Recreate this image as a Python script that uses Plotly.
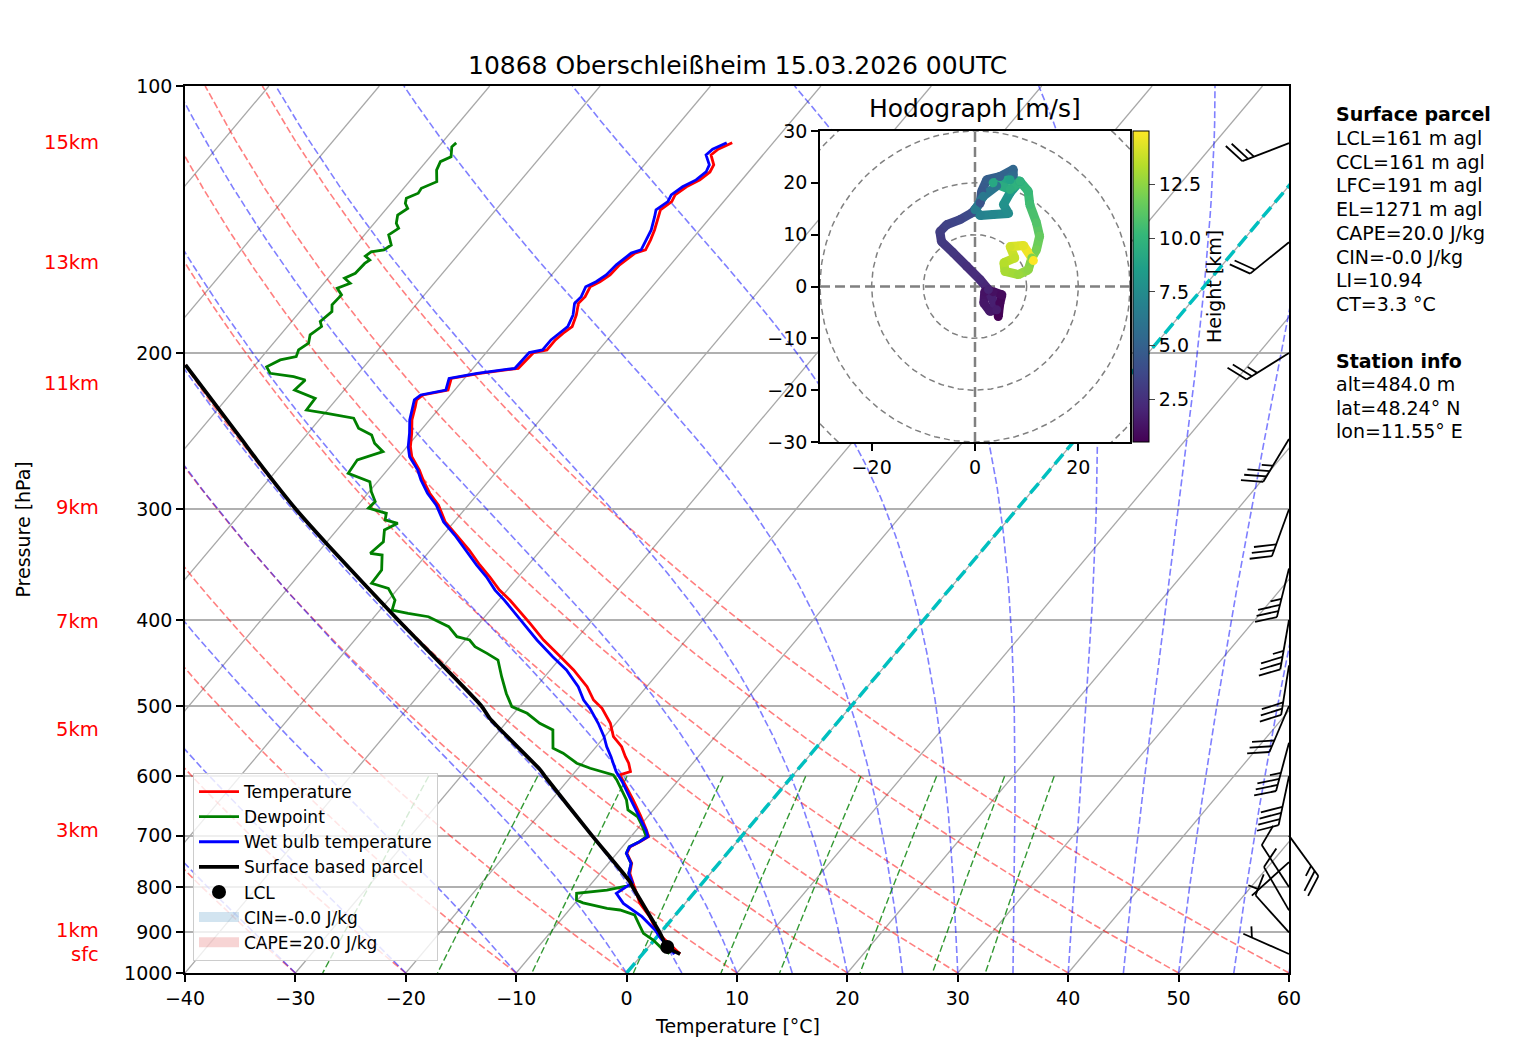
import numpy as np
import plotly.graph_objects as go
from plotly.colors import sample_colorscale

# sounding values (pressure in hPa, temperatures in degC)
temp_p = [952, 934.0, 914.0, 894.4, 864.0, 834.7, 813.2, 791.2, 772.0, 752.2, 732.8, 720.4, 711.1, 702.0,
          689.9, 663.6, 638.1, 608.3, 598.0, 592.8, 580.1, 570.3, 555.7, 541.5, 523.0, 503.0, 492.3, 475.6,
          455.3, 439.9, 421.3, 403.4, 379.8, 370.1, 357.5, 346.7, 333.5, 320.8, 310.1, 296.8, 287.8, 278.1,
          271.0, 261.8, 255.0, 246.3, 237.9, 229.9, 225.9, 223.0, 220.2, 213.6, 210.8, 208.1, 203.6, 199.8,
          198.4, 193.3, 190.0, 186.7, 181.2, 175.8, 172.8, 168.4, 166.2, 163.3, 159.1, 156.4, 154.3, 153.0,
          149.1, 145.3, 140.4, 137.9, 135.0, 132.7, 129.9, 127.6, 125.0, 122.7, 119.6, 117.8, 115.9]
temp_t = [3.4, 2.1, 0.7, -0.6, -2.2, -4.1, -5.2, -6.3, -7.3, -7.9, -9.1, -9.3, -8.8, -8.4,
          -9.1, -10.8, -12.6, -14.9, -15.7, -15.0, -15.8, -16.6, -17.7, -19.2, -20.5, -22.4, -23.8, -25.4,
          -27.9, -30.1, -32.9, -35.4, -39.0, -40.7, -42.6, -44.4, -46.5, -48.8, -50.8, -52.7, -54.4, -56.0,
          -57.1, -58.8, -59.7, -60.6, -61.6, -62.3, -62.7, -62.5, -60.6, -61.2, -59.0, -55.9, -55.8, -55.7,
          -54.7, -54.7, -54.5, -54.2, -54.7, -55.4, -55.3, -55.6, -55.1, -54.7, -54.6, -54.3, -54.1, -53.4,
          -53.7, -54.1, -54.8, -55.1, -54.7, -54.9, -54.5, -53.8, -53.5, -53.7, -54.7, -54.5, -53.7]
# wet bulb temperature on the same levels as temp_p
wetbulb_t = [2.9, 1.8, 0.45, -0.7, -2.9, -5.6, -7.0, -6.35, -7.4, -7.95, -9.15, -9.35, -8.85, -8.45,
             -9.15, -11.0, -12.8, -15.0, -15.9, -16.3, -17.2, -17.9, -19.05, -20.05, -21.6, -23.5, -24.7, -26.2,
             -28.55, -30.8, -33.5, -36.0, -39.5, -41.1, -42.9, -44.7, -46.8, -48.95, -50.95, -52.9, -54.6, -56.2,
             -57.25, -59.0, -59.9, -60.8, -61.8, -62.5, -62.9, -62.7, -60.8, -61.4, -59.25, -56.2, -56.1, -56.1,
             -55.1, -55.1, -54.85, -54.6, -55.0, -55.75, -55.65, -56.0, -55.45, -55.05, -54.9, -54.65, -54.45, -53.8,
             -54.1, -54.4, -55.1, -55.5, -55.05, -55.25, -54.85, -54.15, -53.85, -54.1, -55.15, -55.0, -54.2]

dew_p = [951, 937.9, 918.0, 902.1, 886.8, 860.2, 849.1, 845.4, 833.4, 827.5, 813.2, 806.3, 795.9, 772.0,
         752.2, 732.8, 720.4, 711.1, 702.0, 681.0, 666.6, 655.0, 638.1, 616.6, 605.9, 598.0, 595.4, 587.7,
         580.1, 565.2, 557.9, 532.1, 523.0, 516.3, 509.6, 500.8, 484.0, 463.4, 443.8, 436.2, 428.7, 421.3,
         417.7, 407.0, 396.6, 393.1, 389.8, 379.8, 368.4, 363.6, 351.3, 337.9, 336.4, 326.4, 316.6, 311.2,
         308.5, 303.2, 299.2, 294.1, 286.7, 279.3, 273.3, 263.9, 258.4, 252.8, 247.4, 243.1, 236.9, 233.9,
         231.9, 225.0, 220.2, 214.5, 212.7, 210.8, 207.3, 203.6, 201.9, 198.4, 195.0, 190.8, 186.7, 184.3,
         179.6, 176.5, 172.0, 169.0, 166.9, 164.7, 162.6, 158.5, 157.1, 155.5, 153.8, 153.0, 151.1, 147.2,
         144.7, 142.8, 139.8, 137.4, 135.6, 133.8, 132.1, 130.4, 128.2, 124.4, 121.7, 120.2, 117.1, 115.9]
dew_t = [2.4, 1.3, -0.1, -1.5, -2.3, -3.7, -5.4, -6.7, -9.3, -10.1, -10.6, -8.1, -6.3, -7.4,
         -7.95, -9.15, -9.4, -8.85, -8.6, -9.9, -10.9, -12.3, -13.2, -14.8, -15.6, -16.3, -17.0, -18.9,
         -20.5, -22.5, -23.8, -25.2, -26.9, -27.9, -28.8, -30.7, -32.2, -33.9, -35.5, -37.0, -38.6, -39.6,
         -41.0, -42.5, -45.1, -47.2, -48.9, -49.4, -50.9, -52.8, -52.9, -54.0, -55.2, -54.9, -55.7, -55.0,
         -56.4, -56.8, -58.8, -58.7, -59.8, -60.7, -63.3, -63.5, -61.8, -63.2, -64.1, -65.8, -67.0, -69.8,
         -71.9, -72.0, -74.5, -74.3, -75.6, -78.0, -78.8, -78.1, -76.9, -77.2, -76.8, -77.3, -76.9, -77.4,
         -77.1, -77.6, -77.5, -78.4, -77.6, -78.5, -77.9, -77.8, -77.6, -78.3, -78.1, -77.1, -76.8, -77.8,
         -77.4, -78.0, -78.5, -78.1, -78.7, -79.0, -78.3, -78.4, -77.5, -78.4, -78.7, -78.1, -78.8, -78.7]

parcel_p = [951.9, 934.7, 900, 800, 789.1, 700, 600, 590.2, 516.3, 500, 400, 330.7, 300, 263.9, 250, 206.3]
parcel_t = [3.4, 1.7, -0.1, -6.0, -6.65, -13.6, -22.4, -23.3, -31.8, -33.5, -47.6, -59.4, -65.3, -72.6, -75.6, -86.3]
lcl_p = [934.7]
lcl_t = [1.7]

# hodograph (m/s) and height (km)
hodo_u = [4.5, 4.8, 5.2, 3.5, 1.9, 1.7, 2.9, 4.2, 2.6, 1.0, -1.6, -4.2, -6.5, -6.8, -5.5, -2.9, -0.6, 1.0, 1.3,
          2.3, 4.8, 7.4, 7.4, 4.2, 1.6, 0.0, 1.0, 3.5, 6.5, 5.5, 6.8, 8.7, 6.8, 3.5, 6.8, 8.7, 10.3, 10.6,
          11.9, 12.5, 11.9, 11.0, 10.3, 8.4, 5.8, 5.6, 7.7, 6.8, 9.4, 11.3]
hodo_v = [-5.8, -3.2, -1.6, -1.0, -1.0, -3.2, -4.8, -4.5, -0.6, 1.3, 3.9, 6.5, 8.7, 10.6, 11.9, 12.9, 14.2, 16.1,
          18.4, 20.6, 21.2, 22.6, 21.4, 19.4, 17.4, 14.8, 13.7, 13.9, 14.1, 15.8, 18.1, 20.3, 20.6, 20.0, 18.7,
          20.3, 18.4, 15.8, 12.3, 9.7, 7.1, 5.5, 3.2, 2.3, 2.9, 4.6, 5.5, 7.7, 7.9, 5.0]
hodo_h = [0.5, 0.7, 0.9, 1.1, 1.2, 1.4, 1.5, 1.6, 1.9, 2.2, 2.5, 2.8, 3.0, 3.2, 3.4, 3.6, 3.9, 4.2, 4.5, 4.8,
          5.0, 5.3, 5.5, 6.0, 6.3, 6.6, 6.9, 7.2, 7.5, 7.8, 8.2, 8.5, 8.8, 9.2, 9.6, 9.9, 10.2, 10.5, 11.0,
          11.5, 11.9, 12.2, 12.5, 12.8, 13.1, 13.4, 13.7, 14.0, 14.4, 15.0]

# wind barbs: pressure, direction (deg, from), speed (kt)
barb_p = [952, 900, 850, 800, 750, 700, 600, 550, 500, 450, 400, 350, 300, 250, 200, 150, 116]
barb_dir = [294, 318, 330, 327, 228, 144, 192, 195, 203, 189, 190, 194, 200, 211, 238, 231, 249]
barb_kt = [5, 10, 10, 10, 5, 25, 40, 35, 30, 30, 35, 35, 30, 35, 25, 20, 25]

km_labels = ["sfc", "1km", "3km", "5km", "7km", "9km", "11km", "13km", "15km"]
km_p = [951.9, 894.5, 691.6, 530.8, 401.9, 298.3, 216.2, 158.3, 115.9]

info_lines = ["<b>Surface parcel</b>", "LCL=161 m agl", "CCL=161 m agl", "LFC=191 m agl", "EL=1271 m agl",
              "CAPE=20.0 J/kg", "CIN=-0.0 J/kg", "LI=10.94", "CT=3.3 °C",
              "<b>Station info</b>", "alt=484.0 m", "lat=48.24° N", "lon=11.55° E"]
info_y = [114, 138, 162, 185, 209, 233, 257, 280, 304, 361, 384, 408, 431]

t_ticks = list(range(-40, 61, 10))
p_ticks = [100, 200, 300, 400, 500, 600, 700, 800, 900, 1000]
hodo_xticks = [-20, 0, 20]
hodo_yticks = [-30, -20, -10, 0, 10, 20, 30]
height_ticks = [2.5, 5.0, 7.5, 10.0, 12.5]

# ---- layout geometry (pixels of the 1517x1060 page) ----
PAGE_W, PAGE_H = 1517, 1060
BODY = 8  # default page margin of the html body
FIG_W, FIG_H = PAGE_W - BODY, PAGE_H - BODY
MAIN_X = (185, 1289)
MAIN_Y = (86, 973)
HODO_X = (820, 1130)
HODO_Y = (131, 442)
BARB_X = (1200, 1340)
T_MIN, T_MAX = -40, 60
P_TOP, P_BOT = 100, 1000
HODO_LIM = 30
SKEW = 67.6  # degC of horizontal shift per decade of pressure
FONT = "DejaVu Sans"

PX_PER_DEG = (MAIN_X[1] - MAIN_X[0]) / (T_MAX - T_MIN)
PX_PER_DEC = (MAIN_Y[1] - MAIN_Y[0]) / np.log10(P_BOT / P_TOP)


def px(x):
    return (x - BODY) / FIG_W


def py(y):
    return 1 - (y - BODY) / FIG_H


def minus(v):
    return f"{v:g}".replace("-", "\u2212")


def skew(t, p):
    return np.asarray(t, float) + SKEW * np.log10(P_BOT / np.asarray(p, float))


def moist_adiabat(t0, p):
    Rd, Cp, Lv, eps = 287.04749, 1004.6662, 2.50084e6, 0.621957

    def f(pp, tk):
        es = 6.112 * np.exp(17.67 * (tk - 273.15) / (tk - 29.65))
        rs = eps * es / (pp - es)
        return (Rd * tk + Lv * rs) / (Cp + Lv * Lv * rs * eps / (Rd * tk * tk)) / pp

    tk = t0 + 273.15
    out = [tk]
    for p0, p1 in zip(p[:-1], p[1:]):
        h = p1 - p0
        k1 = f(p0, tk)
        k2 = f(p0 + h / 2, tk + h / 2 * k1)
        k3 = f(p0 + h / 2, tk + h / 2 * k2)
        k4 = f(p1, tk + h * k3)
        tk = tk + h / 6 * (k1 + 2 * k2 + 2 * k3 + k4)
        out.append(tk)
    return np.array(out) - 273.15


def mixing_dewpoint(w, p):
    e = p * w / (0.621957 + w)
    a = np.log(e / 6.112)
    return 243.5 * a / (17.67 - a)


def join_lines(lines):
    xs, ys = [], []
    for x, y in lines:
        xs += list(x) + [None]
        ys += list(y) + [None]
    return xs, ys


fig = go.Figure()

# background lines of the skew-T
iso = [(skew([t, t], [P_BOT, P_TOP]), [P_BOT, P_TOP]) for t in range(-100, 61, 10)]
x, y = join_lines(iso)
fig.add_trace(go.Scatter(x=x, y=y, mode="lines", line=dict(color="#a8a8a8", width=1.3),
                         hoverinfo="skip", showlegend=False))

p_line = np.linspace(P_BOT, P_TOP, 60)
dry = []
for t0 in range(-40, 61, 10):
    t = (t0 + 273.15) * (p_line / 1000.0) ** 0.28571 - 273.15
    dry.append((skew(t, p_line), p_line))
x, y = join_lines(dry)
fig.add_trace(go.Scatter(x=x, y=y, mode="lines",
                         line=dict(color="rgba(255,0,0,0.5)", width=1.6, dash="7px,3px"),
                         hoverinfo="skip", showlegend=False))

p_moist = np.linspace(P_BOT, P_TOP, 181)
moist = []
for t0 in list(range(-40, 0, 10)) + list(range(0, 61, 5)):
    moist.append((skew(moist_adiabat(t0, p_moist), p_moist), p_moist))
x, y = join_lines(moist)
fig.add_trace(go.Scatter(x=x, y=y, mode="lines",
                         line=dict(color="rgba(0,0,255,0.5)", width=1.6, dash="7px,3px"),
                         hoverinfo="skip", showlegend=False))

p_mix = np.linspace(600, P_BOT, 40)
mix = []
for w in [0.0004, 0.001, 0.002, 0.004, 0.007, 0.01, 0.016, 0.024, 0.032]:
    mix.append((skew(mixing_dewpoint(w, p_mix), p_mix), p_mix))
x, y = join_lines(mix)
fig.add_trace(go.Scatter(x=x, y=y, mode="lines",
                         line=dict(color="rgba(0,128,0,0.8)", width=1.4, dash="7px,3px"),
                         hoverinfo="skip", showlegend=False))

fig.add_trace(go.Scatter(x=skew([0, 0], [P_BOT, P_TOP]), y=[P_BOT, P_TOP], mode="lines",
                         line=dict(color="#00bfbf", width=3.5, dash="13px,6px"),
                         hoverinfo="skip", showlegend=False))

# sounding
fig.add_trace(go.Scatter(x=skew(temp_t, temp_p), y=temp_p, mode="lines", name="Temperature",
                         line=dict(color="red", width=2.8)))
fig.add_trace(go.Scatter(x=skew(dew_t, dew_p), y=dew_p, mode="lines", name="Dewpoint",
                         line=dict(color="green", width=2.8)))
fig.add_trace(go.Scatter(x=skew(wetbulb_t, temp_p), y=temp_p, mode="lines", name="Wet bulb temperature",
                         line=dict(color="blue", width=2.8)))
fig.add_trace(go.Scatter(x=skew(parcel_t, parcel_p), y=parcel_p, mode="lines", name="Surface based parcel",
                         line=dict(color="black", width=3.8, shape="spline", smoothing=0.6)))
fig.add_trace(go.Scatter(x=skew(lcl_t, lcl_p), y=lcl_p, mode="markers", name="LCL",
                         marker=dict(color="black", size=14)))
# CIN / CAPE areas are too thin to show; only their legend patches are visible
fig.add_trace(go.Scatter(x=[None], y=[None], mode="lines", name="CIN=-0.0 J/kg",
                         line=dict(color="rgba(31,119,180,0.2)", width=12)))
fig.add_trace(go.Scatter(x=[None], y=[None], mode="lines", name="CAPE=20.0 J/kg",
                         line=dict(color="rgba(214,39,40,0.2)", width=12)))

# hodograph inset
lim = HODO_LIM
fig.add_trace(go.Scatter(x=[-lim, lim, lim, -lim, -lim], y=[-lim, -lim, lim, lim, -lim], mode="lines",
                         fill="toself", fillcolor="white", line=dict(width=0),
                         xaxis="x2", yaxis="y2", hoverinfo="skip", showlegend=False))
ang = np.linspace(0, 2 * np.pi, 241)
rings = [(r * np.cos(ang), r * np.sin(ang)) for r in (10, 20, 30, 40)]
x, y = join_lines(rings)
fig.add_trace(go.Scatter(x=x, y=y, mode="lines", line=dict(color="gray", width=1.5, dash="6px,4px"),
                         xaxis="x2", yaxis="y2", hoverinfo="skip", showlegend=False))
x, y = join_lines([([-lim, lim], [0, 0]), ([0, 0], [-lim, lim])])
fig.add_trace(go.Scatter(x=x, y=y, mode="lines", line=dict(color="gray", width=2.5, dash="10px,5px"),
                         xaxis="x2", yaxis="y2", hoverinfo="skip", showlegend=False))

h_min, h_max = min(hodo_h), max(hodo_h)
for i in range(len(hodo_u) - 1):
    frac = ((hodo_h[i] + hodo_h[i + 1]) / 2 - h_min) / (h_max - h_min)
    col = sample_colorscale("Viridis", [frac])[0]
    fig.add_trace(go.Scatter(x=hodo_u[i:i + 2], y=hodo_v[i:i + 2], mode="lines",
                             line=dict(color=col, width=9), xaxis="x2", yaxis="y2",
                             hoverinfo="skip", showlegend=False))
fig.add_trace(go.Scatter(
    x=hodo_u, y=hodo_v, mode="markers", xaxis="x2", yaxis="y2", showlegend=False,
    marker=dict(color=hodo_h, colorscale="Viridis", cmin=h_min, cmax=h_max, size=9,
                colorbar=dict(x=px(1133), xanchor="left", y=py(HODO_Y[1]), yanchor="bottom",
                              len=(HODO_Y[1] - HODO_Y[0]) / FIG_H, lenmode="fraction",
                              thickness=16, thicknessmode="pixels", xpad=0, ypad=0,
                              outlinecolor="black", outlinewidth=1, ticks="outside", ticklen=6,
                              tickvals=height_ticks, ticktext=[f"{v:.1f}" for v in height_ticks],
                              tickfont=dict(size=19, family=FONT),
                              title=dict(text="Height [km]", side="right",
                                         font=dict(size=19, family=FONT))))))

# wind barbs, drawn in pixel-sized offsets from the right edge of the diagram
STAFF = 50.0


def barb_segments(direction, speed):
    th = np.radians(direction)
    d = np.array([np.sin(th), np.cos(th)])
    perp = np.array([d[1], -d[0]])
    segs = [(np.zeros(2), STAFF * d)]
    spd = int(5 * round(speed / 5))
    full, rest = divmod(spd, 10)
    half = rest >= 5
    hgt, gap = 0.4 * STAFF, 0.125 * STAFF
    s = STAFF
    if full == 0 and half:
        s -= 1.5 * gap
    for _ in range(full):
        a = s * d
        segs.append((a, a + hgt * perp + 0.5 * hgt * d))
        s -= gap
    if half:
        a = s * d
        segs.append((a, a + 0.5 * hgt * perp + 0.25 * hgt * d))
    return segs


bx, by = [], []
for p, dr, kt in zip(barb_p, barb_dir, barb_kt):
    for a, b in barb_segments(dr, kt):
        bx += [T_MAX + a[0] / PX_PER_DEG, T_MAX + b[0] / PX_PER_DEG, None]
        by += [p * 10 ** (-a[1] / PX_PER_DEC), p * 10 ** (-b[1] / PX_PER_DEC), None]
fig.add_trace(go.Scatter(x=bx, y=by, mode="lines", line=dict(color="black", width=1.8),
                         xaxis="x3", yaxis="y3", hoverinfo="skip", showlegend=False))

# ---- axes ----
main_ydom = [py(MAIN_Y[1]), py(MAIN_Y[0])]
axis_style = dict(showline=True, mirror=True, linecolor="black", linewidth=1.5, ticks="outside",
                  ticklen=7, tickwidth=1.5, tickcolor="black", zeroline=False, automargin=False,
                  tickfont=dict(size=19, family=FONT, color="black"))

barb_range = [T_MIN + (BARB_X[0] - MAIN_X[0]) / PX_PER_DEG, T_MIN + (BARB_X[1] - MAIN_X[0]) / PX_PER_DEG]

fig.update_layout(
    width=FIG_W, height=FIG_H,
    margin=dict(l=0, r=0, t=0, b=0, pad=0, autoexpand=False),
    paper_bgcolor="white", plot_bgcolor="rgba(0,0,0,0)",
    font=dict(family=FONT, size=19, color="black"),
    xaxis=dict(domain=[px(MAIN_X[0]), px(MAIN_X[1])], range=[T_MIN, T_MAX], anchor="y",
               tickvals=t_ticks, ticktext=[minus(v) for v in t_ticks], showgrid=False, **axis_style),
    yaxis=dict(domain=main_ydom, type="log", range=[np.log10(P_BOT), np.log10(P_TOP)], anchor="x",
               tickvals=p_ticks, ticktext=[str(v) for v in p_ticks], showgrid=True,
               gridcolor="#b0b0b0", gridwidth=1.5, **axis_style),
    xaxis2=dict(domain=[px(HODO_X[0]), px(HODO_X[1])], range=[-lim, lim], anchor="y2",
                tickvals=hodo_xticks, ticktext=[minus(v) for v in hodo_xticks], showgrid=False, **axis_style),
    yaxis2=dict(domain=[py(HODO_Y[1]), py(HODO_Y[0])], range=[-lim, lim], anchor="x2",
                tickvals=hodo_yticks, ticktext=[minus(v) for v in hodo_yticks], showgrid=False, **axis_style),
    xaxis3=dict(domain=[px(BARB_X[0]), px(BARB_X[1])], range=barb_range, anchor="y3", visible=False),
    yaxis3=dict(domain=main_ydom, type="log", range=[np.log10(P_BOT), np.log10(P_TOP)], anchor="x3",
                visible=False),
    legend=dict(x=px(193), y=py(773), xanchor="left", yanchor="top", bgcolor="rgba(255,255,255,0.8)",
                bordercolor="#cccccc", borderwidth=1, font=dict(size=17, family=FONT), tracegroupgap=0,
                itemwidth=40),
    showlegend=True,
)

annotations = [
    dict(text="10868 Oberschleißheim 15.03.2026 00UTC", x=px((MAIN_X[0] + MAIN_X[1]) / 2), y=py(66),
         font=dict(size=25)),
    dict(text="Hodograph [m/s]", x=px((HODO_X[0] + HODO_X[1]) / 2), y=py(108), font=dict(size=25)),
    dict(text="Temperature [°C]", x=px((MAIN_X[0] + MAIN_X[1]) / 2), y=py(1026), font=dict(size=19)),
    dict(text="Pressure [hPa]", x=px(22), y=py((MAIN_Y[0] + MAIN_Y[1]) / 2), textangle=-90,
         font=dict(size=19)),
]
for a in annotations:
    a.update(xref="paper", yref="paper", xanchor="center", yanchor="middle", showarrow=False)

shapes = []
for lab, p in zip(km_labels, km_p):
    annotations.append(dict(text=lab, xref="paper", yref="y", x=px(101), y=np.log10(p), xanchor="right",
                            yanchor="middle", showarrow=False, font=dict(size=19.5, color="red")))
    shapes.append(dict(type="line", xref="paper", yref="y", x0=px(143), x1=px(MAIN_X[0]),
                       y0=np.log10(p), y1=np.log10(p), line=dict(color="red", width=1.3)))

for txt, yy in zip(info_lines, info_y):
    annotations.append(dict(text=txt, xref="paper", yref="paper", x=px(1334), y=py(yy), xanchor="left",
                            yanchor="middle", showarrow=False, font=dict(size=19)))

fig.update_layout(annotations=annotations, shapes=shapes)

fig.write_html("out.html")
